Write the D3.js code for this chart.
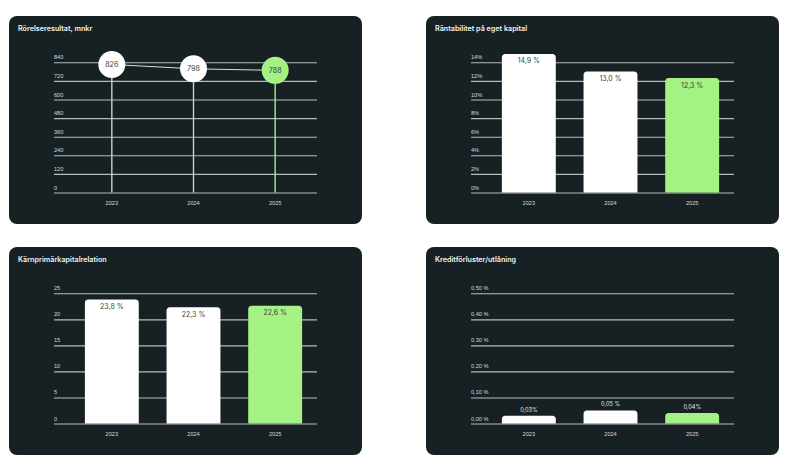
<!DOCTYPE html>
<html>
<head>
<meta charset="utf-8">
<script src="https://cdn.jsdelivr.net/npm/d3@7"></script>
<style>
  body { margin: 0; background: #fff; }
  svg { display: block; font-family: Inter, "Noto Sans", sans-serif; }
</style>
</head>
<body>
<div id="chart"></div>
<script>
// data
var years = ["2023", "2024", "2025"];
var rorelseValues = [826, 798, 788];
var rantabilitetValues = [14.9, 13.0, 12.3];
var rantabilitetLabels = ["14,9 %", "13,0 %", "12,3 %"];
var karnValues = [23.8, 22.3, 22.6];
var karnLabels = ["23,8 %", "22,3 %", "22,6 %"];
var kreditValues = [0.03, 0.05, 0.04];
var kreditLabels = ["0,03%", "0,05 %", "0,04%"];

var rorelseTicks = [0, 120, 240, 360, 480, 600, 720, 840];
var rantabilitetTicks = [0, 2, 4, 6, 8, 10, 12, 14];
var karnTicks = [0, 5, 10, 15, 20, 25];
var kreditTicks = [0, 0.1, 0.2, 0.3, 0.4, 0.5];

var bg = "#172123",
    grid = "#b5bcbc",
    green = "#a4f283",
    white = "#ffffff",
    stemGray = "#c6d0d6";

var panelW = 353, panelH = 208;

var svg = d3.select("#chart").append("svg")
    .attr("width", 800)
    .attr("height", 469);

function makePanel(px, py, title, ticks, tickFormat) {
    var g = svg.append("g").attr("transform", "translate(" + px + "," + py + ")");

    g.append("rect")
        .attr("width", panelW)
        .attr("height", panelH)
        .attr("rx", 8)
        .attr("fill", bg);

    g.append("text")
        .attr("x", 9)
        .attr("y", 15)
        .attr("fill", "#f2f4f4")
        .attr("font-size", "7.2px")
        .attr("font-weight", 600)
        .text(title);

    var y = d3.scaleLinear()
        .domain([0, d3.max(ticks)])
        .range([176.5, 46.3]);

    var x = d3.scaleBand()
        .domain(years)
        .range([62, 307])
        .paddingInner(0.34)
        .paddingOuter(0.17);

    // gridlines + labels (labels sit above each line)
    var yAxis = d3.axisLeft(y)
        .tickValues(ticks)
        .tickSize(-263)
        .tickFormat(tickFormat);

    var gy = g.append("g")
        .attr("transform", "translate(45,0)")
        .call(yAxis);
    gy.select(".domain").remove();
    gy.selectAll(".tick line")
        .attr("stroke", grid)
        .attr("stroke-width", 1.1);
    gy.selectAll(".tick text")
        .attr("x", 0)
        .attr("dy", "-3.5")
        .attr("text-anchor", "start")
        .attr("fill", "#d4d9d9")
        .attr("font-size", "5.6px");

    var xAxis = d3.axisBottom(x).tickSize(0);
    var gx = g.append("g")
        .attr("transform", "translate(0,176.5)")
        .call(xAxis);
    gx.select(".domain").remove();
    gx.selectAll(".tick text")
        .attr("dy", "9")
        .attr("fill", "#d4d9d9")
        .attr("font-size", "5.6px");

    return { g: g, x: x, y: y };
}

function topRounded(x0, y0, w, h, r) {
    r = Math.min(r, h, w / 2);
    return "M" + x0 + "," + (y0 + h) +
        "V" + (y0 + r) +
        "Q" + x0 + "," + y0 + " " + (x0 + r) + "," + y0 +
        "H" + (x0 + w - r) +
        "Q" + (x0 + w) + "," + y0 + " " + (x0 + w) + "," + (y0 + r) +
        "V" + (y0 + h) + "Z";
}

function drawBars(p, values, labels, inside) {
    var data = years.map(function (d, i) {
        return { year: d, value: values[i], label: labels[i] };
    });

    var bars = p.g.selectAll(".bar")
        .data(data)
        .enter()
        .append("g");

    bars.append("path")
        .attr("class", "bar")
        .attr("fill", function (d, i) { return i === 2 ? green : white; })
        .attr("d", function (d) {
            var top = p.y(d.value);
            return topRounded(p.x(d.year), top, p.x.bandwidth(), p.y(0) - top, 3.5);
        });

    bars.append("text")
        .attr("x", function (d) { return p.x(d.year) + p.x.bandwidth() / 2; })
        .attr("y", function (d) { return inside ? p.y(d.value) + 9.5 : p.y(d.value) - 4; })
        .attr("text-anchor", "middle")
        .attr("font-size", inside ? "7px" : "5.6px")
        .attr("fill", inside ? "#3a3f40" : "#e6eaea")
        .text(function (d) { return d.label; });
}

// panel 1: lollipop
var p1 = makePanel(9, 16, "Rörelseresultat, mnkr", rorelseTicks, function (d) { return d; });
var pts = years.map(function (d, i) { return { year: d, value: rorelseValues[i] }; });
var cx = function (d) { return p1.x(d.year) + p1.x.bandwidth() / 2; };

p1.g.append("path")
    .datum(pts)
    .attr("fill", "none")
    .attr("stroke", "#d8dede")
    .attr("stroke-width", 1)
    .attr("d", d3.line().x(cx).y(function (d) { return p1.y(d.value); }));

p1.g.selectAll(".stem")
    .data(pts)
    .enter()
    .append("line")
    .attr("class", "stem")
    .attr("x1", cx).attr("x2", cx)
    .attr("y1", function (d) { return p1.y(d.value); })
    .attr("y2", p1.y(0))
    .attr("stroke", function (d, i) { return i === 2 ? green : stemGray; })
    .attr("stroke-width", 1.4);

p1.g.selectAll(".dot")
    .data(pts)
    .enter()
    .append("circle")
    .attr("class", "dot")
    .attr("cx", cx)
    .attr("cy", function (d) { return p1.y(d.value); })
    .attr("r", 13.5)
    .attr("fill", function (d, i) { return i === 2 ? green : white; });

p1.g.selectAll(".dot-label")
    .data(pts)
    .enter()
    .append("text")
    .attr("x", cx)
    .attr("y", function (d) { return p1.y(d.value) + 2.5; })
    .attr("text-anchor", "middle")
    .attr("font-size", "7.2px")
    .attr("fill", "#3a3f40")
    .text(function (d) { return d.value; });

// panel 2
var p2 = makePanel(426, 16, "Räntabilitet på eget kapital", rantabilitetTicks, function (d) { return d + "%"; });
drawBars(p2, rantabilitetValues, rantabilitetLabels, true);

// panel 3
var p3 = makePanel(9, 247, "Kärnprimärkapitalrelation", karnTicks, function (d) { return d; });
drawBars(p3, karnValues, karnLabels, true);

// panel 4
var p4 = makePanel(426, 247, "Kreditförluster/utlåning", kreditTicks, function (d) { return d3.format(".2f")(d).replace(".", ",") + " %"; });
drawBars(p4, kreditValues, kreditLabels, false);
</script>
</body>
</html>
